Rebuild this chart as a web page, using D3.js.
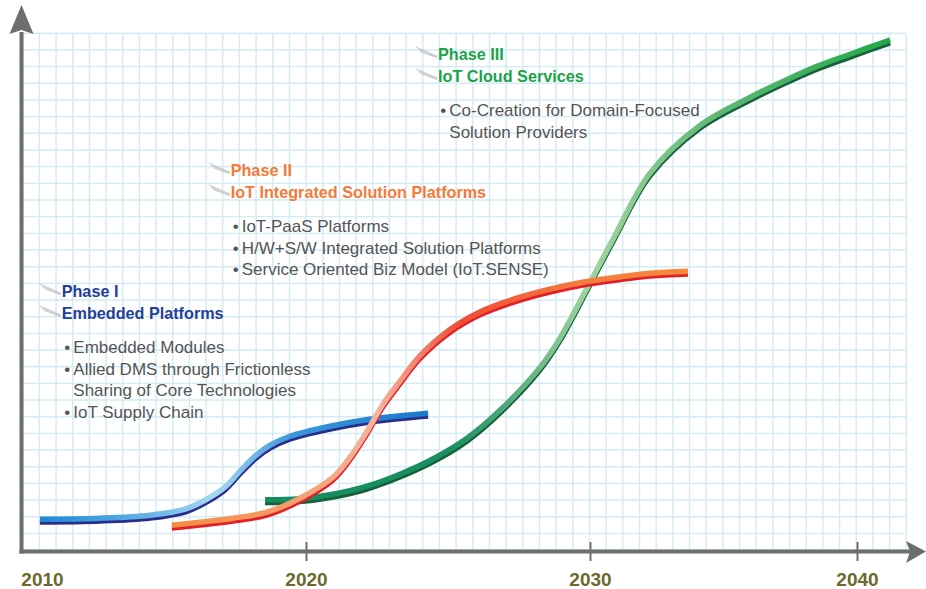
<!DOCTYPE html>
<html>
<head>
<meta charset="utf-8">
<script src="https://cdn.jsdelivr.net/npm/d3@7"></script>
<style>
  body { margin: 0; background: #fff; }
  svg { display: block; }
  .bullet-text { font-family: "Liberation Sans", Arial, sans-serif; font-size: 17px; fill: #545456; }
  .head-text { font-family: "Liberation Sans", Arial, sans-serif; font-size: 16.2px; font-weight: bold; }
  .year-label { font-family: "Liberation Sans", Arial, sans-serif; font-size: 19px; font-weight: bold; fill: #6b6a2c; }
</style>
</head>
<body>
<div id="chart"></div>
<script>
// axis labels
const labelYears = [2010, 2020, 2030, 2040];
const tickYears = [2020, 2030, 2040];

// phase I curve (years, maturity %)
const phase1Years = [2009.92, 2012.2, 2014.09, 2015.42, 2016.17, 2016.93, 2017.5, 2018.07, 2018.64, 2019.39, 2020.85, 2022.25, 2024.3];
const phase1Values = [5.98, 6.18, 6.76, 7.92, 9.65, 12.16, 15.25, 18.15, 20.27, 22.0, 23.94, 25.29, 26.45];

// phase II curve
const phase2Years = [2014.92, 2015.98, 2017.23, 2018.52, 2019.77, 2020.95, 2021.55, 2022.15, 2022.71, 2023.31, 2024.01, 2025.07, 2026.13, 2027.54, 2028.59, 2029.75, 2031.01, 2032.25, 2033.67];
const phase2Values = [4.83, 5.41, 6.18, 7.34, 10.04, 14.09, 17.95, 22.97, 28.19, 32.63, 37.5, 42.6, 46.0, 48.84, 50.39, 51.74, 52.7, 53.47, 53.86];

// phase III curve
const phase3Years = [2018.45, 2019.77, 2020.95, 2022.15, 2023.31, 2024.47, 2025.67, 2026.83, 2028.24, 2028.94, 2030.0, 2030.86, 2032.25, 2034.12, 2035.99, 2037.23, 2038.5, 2039.74, 2041.24];
const phase3Values = [9.75, 9.94, 10.81, 12.36, 14.67, 17.6, 21.6, 27.0, 35.3, 40.9, 51.7, 60.0, 72.8, 82.0, 87.4, 90.5, 93.4, 95.75, 98.5];

// text blocks
const phase1Heads = ["Phase I", "Embedded Platforms"];
const phase1Items = [["Embedded Modules"], ["Allied DMS through Frictionless", "Sharing of Core Technologies"], ["IoT Supply Chain"]];
const phase2Heads = ["Phase II", "IoT Integrated Solution Platforms"];
const phase2Items = [["IoT-PaaS Platforms"], ["H/W+S/W Integrated Solution Platforms"], ["Service Oriented Biz Model (IoT.SENSE)"]];
const phase3Heads = ["Phase III", "IoT Cloud Services"];
const phase3Items = [["Co-Creation for Domain-Focused", "Solution Providers"]];

const width = 926, height = 589;
const axisColor = "#6d6e70";

const svg = d3.select("#chart").append("svg")
    .attr("width", width)
    .attr("height", height);
const defs = svg.append("defs");

// scales
const x = d3.scaleLinear().domain(labelYears).range([42, 306, 590, 857]);
const y = d3.scaleLinear().domain([0, 100]).range([551, 33]);

// graph paper background
const cell = 16.67, gx0 = 22.7, gy0 = 33.3;
const grid = svg.append("g").attr("stroke", "#d3ebf3").attr("stroke-width", 1.4);
d3.range(54).forEach(k => {
    grid.append("line").attr("x1", gx0 + k * cell).attr("x2", gx0 + k * cell)
        .attr("y1", gy0).attr("y2", 551);
});
d3.range(32).forEach(j => {
    grid.append("line").attr("x1", gx0).attr("x2", gx0 + 53 * cell)
        .attr("y1", gy0 + j * cell).attr("y2", gy0 + j * cell);
});

// axes
svg.append("line").attr("x1", 21.5).attr("x2", 21.5).attr("y1", 553.5).attr("y2", 32)
    .attr("stroke", axisColor).attr("stroke-width", 4);
svg.append("path").attr("d", "M21.5,5 L33.5,34 L21.5,30 L9.5,34 Z").attr("fill", axisColor);
svg.append("line").attr("x1", 19.5).attr("x2", 910).attr("y1", 551.5).attr("y2", 551.5)
    .attr("stroke", axisColor).attr("stroke-width", 4);
svg.append("path").attr("d", "M926,551.5 L906,541 L910,551.5 L906,563 Z").attr("fill", axisColor);

const xAxis = svg.append("g")
    .attr("transform", "translate(0,542)")
    .call(d3.axisBottom(x).tickValues(labelYears).tickFormat(d => d).tickSize(19).tickPadding(12));
xAxis.select(".domain").remove();
xAxis.selectAll(".tick line")
    .attr("stroke", axisColor).attr("stroke-width", 2)
    .attr("display", d => tickYears.includes(d) ? null : "none");
xAxis.selectAll(".tick text").attr("class", "year-label").attr("fill", null);

// curves drawn as two-tone ribbons
const line = d3.line()
    .x(d => x(d[0]))
    .y(d => y(d[1]))
    .curve(d3.curveCatmullRom.alpha(0.5));

function ribbon(id, years, values, dark, stops) {
    const pts = years.map((yr, i) => [yr, values[i]]);
    const grad = defs.append("linearGradient")
        .attr("id", id)
        .attr("gradientUnits", "userSpaceOnUse")
        .attr("x1", x(years[0])).attr("x2", x(years[years.length - 1]))
        .attr("y1", 0).attr("y2", 0);
    stops.forEach(s => grad.append("stop").attr("offset", s[0]).attr("stop-color", s[1]));
    const g = svg.append("g");
    g.append("path").datum(pts)
        .attr("d", line)
        .attr("transform", "translate(0,2.5)")
        .attr("fill", "none").attr("stroke", dark).attr("stroke-width", 4.5);
    g.append("path").datum(pts)
        .attr("d", line)
        .attr("transform", "translate(0,-0.8)")
        .attr("fill", "none").attr("stroke", `url(#${id})`).attr("stroke-width", 5.5);
}

ribbon("g1", phase1Years, phase1Values, "#2b2d8a",
    [[0, "#1f88d4"], [0.25, "#5aaee4"], [0.45, "#a9d6f2"], [0.65, "#3a97dc"], [1, "#1a78cc"]]);
ribbon("g3", phase3Years, phase3Values, "#17603a",
    [[0, "#138c5e"], [0.3, "#1a9062"], [0.52, "#a2d4a0"], [0.72, "#5fb874"], [1, "#22a84a"]]);
ribbon("g2", phase2Years, phase2Values, "#e42027",
    [[0, "#f68b3f"], [0.2, "#f59a66"], [0.4, "#f5b4a0"], [0.56, "#ef4d36"], [0.78, "#f47a3e"], [1, "#f68a3c"]]);

// phase text blocks
function phaseBlock(heads, items, color, hx, hy, bx, by) {
    const g = svg.append("g");
    heads.forEach((t, i) => {
        const base = hy + i * 21.8;
        // motion streak
        d3.range(4).forEach(k => {
            g.append("line")
                .attr("x1", hx - 22 + k * 1.5).attr("y1", base - 13 + k * 1.6)
                .attr("x2", hx - 1).attr("y2", base - 4 + k * 0.6)
                .attr("stroke", "#c4c4c4").attr("stroke-width", 1).attr("opacity", 0.8);
        });
        g.append("text").attr("class", "head-text").attr("fill", color)
            .attr("x", hx).attr("y", base).text(t);
    });
    let row = 0;
    items.forEach(lines => {
        g.append("text").attr("class", "bullet-text")
            .attr("x", bx - 9).attr("y", by + row * 21.5).text("\u2022");
        lines.forEach(t => {
            g.append("text").attr("class", "bullet-text")
                .attr("x", bx).attr("y", by + row * 21.5).text(t);
            row++;
        });
    });
}

phaseBlock(phase1Heads, phase1Items, "#233f99", 61.7, 297, 73.3, 353);
phaseBlock(phase2Heads, phase2Items, "#f47a3a", 230.7, 176, 241.7, 232);
phaseBlock(phase3Heads, phase3Items, "#1ba34a", 438, 60, 449.3, 116);
</script>
</body>
</html>
